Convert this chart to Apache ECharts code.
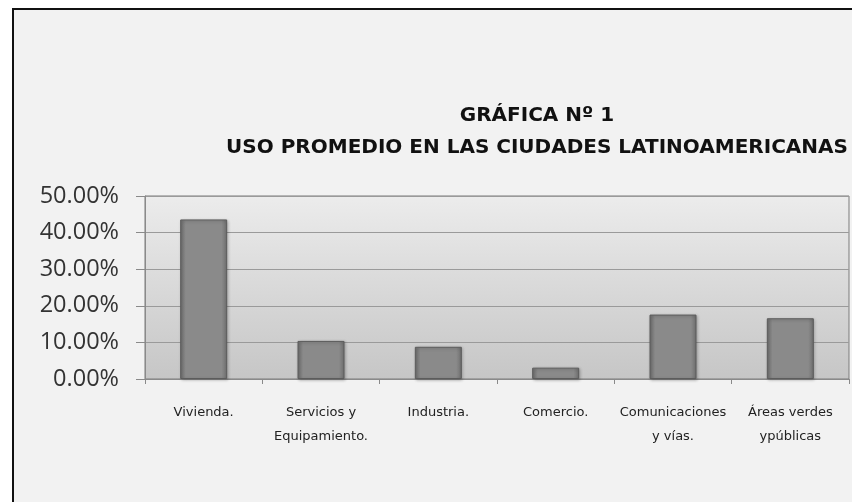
<!DOCTYPE html>
<html>
<head>
<meta charset="utf-8">
<script src="https://cdn.jsdelivr.net/npm/echarts@6/dist/echarts.min.js"></script>
<style>
  html, body { margin: 0; padding: 0; background: #fff; }
  #chart { width: 852px; height: 502px; }
</style>
</head>
<body>
<div id="chart"></div>
<script>
// categorias y valores (porcentaje)
var categorias = [
  'Vivienda.',
  'Servicios y\nEquipamiento.',
  'Industria.',
  'Comercio.',
  'Comunicaciones\ny vías.',
  'Áreas verdes\nypúblicas'
]
var valores = [43.6, 10.4, 8.8, 3.1, 17.6, 16.6]
var titulo = 'GRÁFICA Nº 1\nUSO PROMEDIO EN LAS CIUDADES LATINOAMERICANAS'

var chart = echarts.init(document.getElementById('chart'))
var option = {
  backgroundColor: '#ffffff',
  animation: false,
  // marco de la hoja
  graphic: [{
    type: 'rect',
    z: -10,
    shape: { x: 13, y: 9, width: 900, height: 600 },
    style: { fill: '#f2f2f2', stroke: '#111', lineWidth: 2 }
  }],
  title: {
    text: titulo,
    left: 532,
    textAlign: 'center',
    top: 95,
    textStyle: {
      fontFamily: '"Comic Sans MS", "DejaVu Sans", sans-serif',
      fontWeight: 'bold',
      fontSize: 20,
      lineHeight: 32,
      color: '#111'
    }
  },
  grid: {
    left: 145,
    right: 3,
    top: 196,
    bottom: 123,
    show: true,
    borderColor: '#7a7a7a',
    borderWidth: 1,
    backgroundColor: {
      type: 'linear', x: 0, y: 0, x2: 0, y2: 1,
      colorStops: [
        { offset: 0, color: '#ececec' },
        { offset: 1, color: '#c6c6c6' }
      ]
    }
  },
  xAxis: {
    type: 'category',
    data: categorias,
    axisLine: { lineStyle: { color: '#8a8a8a' } },
    axisTick: { show: true, length: 5, lineStyle: { color: '#8a8a8a' } },
    axisLabel: {
      interval: 0,
      margin: 22,
      fontFamily: '"Comic Sans MS", "DejaVu Sans", sans-serif',
      fontSize: 13,
      lineHeight: 24,
      color: '#222'
    }
  },
  yAxis: {
    type: 'value',
    min: 0,
    max: 50,
    interval: 10,
    axisLine: { show: true, lineStyle: { color: '#8a8a8a' } },
    axisTick: { show: true, inside: false, length: 9, lineStyle: { color: '#8a8a8a' } },
    splitLine: { lineStyle: { color: '#9a9a9a', width: 1 } },
    axisLabel: {
      margin: 26,
      fontFamily: '"Open Sans", "DejaVu Sans", sans-serif',
      fontSize: 23.5,
      color: '#333',
      formatter: function (v) { return v.toFixed(2) + '%' }
    }
  },
  series: [{
    type: 'bar',
    data: valores,
    barWidth: 47,
    itemStyle: {
      color: {
        type: 'linear', x: 0, y: 0, x2: 1, y2: 0,
        colorStops: [
          { offset: 0, color: '#6e6e6e' },
          { offset: 0.12, color: '#8a8a8a' },
          { offset: 0.88, color: '#8a8a8a' },
          { offset: 1, color: '#6e6e6e' }
        ]
      },
      borderColor: '#5c5c5c',
      borderWidth: 1,
      shadowColor: 'rgba(0,0,0,0.25)',
      shadowBlur: 3,
      shadowOffsetX: 1,
      shadowOffsetY: 1
    }
  }]
}
chart.setOption(option)
</script>
</body>
</html>
